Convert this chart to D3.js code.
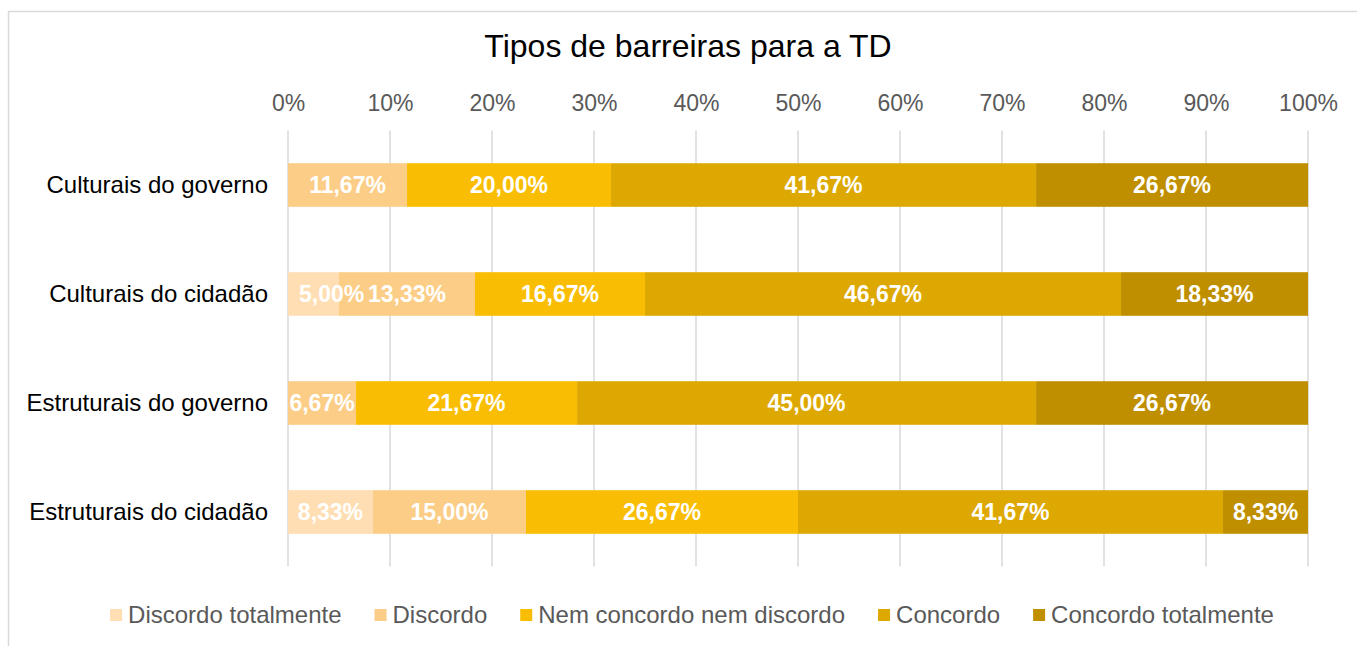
<!DOCTYPE html>
<html>
<head>
<meta charset="utf-8">
<script src="https://cdn.jsdelivr.net/npm/d3@7"></script>
<style>
  body { margin: 0; background: #fff; }
  svg { display: block; font-family: "Liberation Sans", Arial, sans-serif; }
</style>
</head>
<body>
<div id="chart"></div>
<script>
// Données
const categories = ["Culturais do governo", "Culturais do cidadão", "Estruturais do governo", "Estruturais do cidadão"];
const seriesNames = ["Discordo totalmente", "Discordo", "Nem concordo nem discordo", "Concordo", "Concordo totalmente"];
const discordoTotalmente = [0, 5.00, 0, 8.33];
const discordo = [11.67, 13.33, 6.67, 15.00];
const nemNem = [20.00, 16.67, 21.67, 26.67];
const concordo = [41.67, 46.67, 45.00, 41.67];
const concordoTotalmente = [26.67, 18.33, 26.67, 8.33];
const tickValues = [0, 10, 20, 30, 40, 50, 60, 70, 80, 90, 100];
const colors = ["#FEDEB2", "#FBCD86", "#F9BE03", "#DEA802", "#BF8F00"];

const seriesValues = [discordoTotalmente, discordo, nemNem, concordo, concordoTotalmente];

const WIDTH = 1357, HEIGHT = 646;
const PLOT = { left: 288, right: 1308, top: 130.5, bottom: 566.5 };
const FONT = 23;

const svg = d3.select("#chart").append("svg")
    .attr("width", WIDTH)
    .attr("height", HEIGHT);

// Cadre
svg.append("rect")
    .attr("x", 8.5).attr("y", 11.5)
    .attr("width", WIDTH + 20).attr("height", HEIGHT + 20)
    .attr("fill", "#fff")
    .attr("stroke", "#D9D9D9")
    .attr("stroke-width", 1.5);

// Titre
svg.append("text")
    .attr("x", 688)
    .attr("y", 57)
    .attr("text-anchor", "middle")
    .attr("font-size", 32)
    .attr("fill", "#000")
    .text("Tipos de barreiras para a TD");

// Echelles
const x = d3.scaleLinear().domain([0, 100]).range([PLOT.left, PLOT.right]);
const y = d3.scaleBand().domain(categories)
    .range([PLOT.top, PLOT.bottom])
    .paddingInner(0.6).paddingOuter(0.3);

// Grille
svg.append("g")
    .selectAll("line")
    .data(tickValues)
    .join("line")
    .attr("x1", d => x(d)).attr("x2", d => x(d))
    .attr("y1", PLOT.top).attr("y2", PLOT.bottom)
    .attr("stroke", "#D9D9D9")
    .attr("stroke-width", 1.5);

// Axe X (en haut)
const xAxis = svg.append("g")
    .attr("transform", `translate(0,${PLOT.top})`)
    .call(d3.axisTop(x).tickValues(tickValues).tickFormat(d => d + "%").tickSize(0).tickPadding(20));
xAxis.select(".domain").remove();
xAxis.selectAll("text")
    .attr("font-size", FONT)
    .attr("font-family", "Liberation Sans, Arial, sans-serif")
    .attr("fill", "#595959");

// Axe Y
const yAxis = svg.append("g")
    .attr("transform", `translate(${PLOT.left},0)`)
    .call(d3.axisLeft(y).tickSize(0).tickPadding(20));
yAxis.select(".domain").remove();
yAxis.selectAll("text")
    .attr("font-size", 24)
    .attr("font-family", "Liberation Sans, Arial, sans-serif")
    .attr("fill", "#000");

// Empilement
const rows = categories.map((c, i) => {
    const row = { category: c };
    seriesNames.forEach((s, j) => row[s] = seriesValues[j][i]);
    return row;
});
const stacked = d3.stack().keys(seriesNames)(rows);

const layers = svg.append("g")
    .selectAll("g")
    .data(stacked)
    .join("g")
    .attr("fill", (d, i) => colors[i]);

layers.selectAll("rect")
    .data(d => d)
    .join("rect")
    .attr("x", d => x(d[0]))
    .attr("y", d => y(d.data.category))
    .attr("width", d => x(d[1]) - x(d[0]))
    .attr("height", y.bandwidth());

// Etiquettes (décalées si elles sortent à gauche, comme Excel)
const labels = svg.append("g");
stacked.forEach(layer => {
    layer.forEach(d => {
        const v = d[1] - d[0];
        if (v <= 0) return;
        const cx = (x(d[0]) + x(d[1])) / 2;
        const t = labels.append("text")
            .attr("y", y(d.data.category) + y.bandwidth() / 2)
            .attr("dy", "0.35em")
            .attr("text-anchor", "middle")
            .attr("font-size", FONT)
            .attr("font-weight", "bold")
            .attr("fill", "#fff")
            .text(d.data[layer.key].toFixed(2).replace(".", ",") + "%");
        const w = t.node().getComputedTextLength();
        const left = Math.max(cx - w / 2, cx - w / 2 < PLOT.left ? PLOT.left + 11 : -Infinity);
        t.attr("x", left + w / 2);
    });
});

// Légende
const LEGEND_GAP = 33;
const legend = svg.append("g");
let lx = 0;
seriesNames.forEach((s, i) => {
    const g = legend.append("g").attr("transform", `translate(${lx},0)`);
    g.append("rect")
        .attr("x", 0).attr("y", -14)
        .attr("width", 12).attr("height", 12)
        .attr("fill", colors[i]);
    const t = g.append("text")
        .attr("x", 18).attr("y", 0)
        .attr("font-size", 24)
        .attr("fill", "#595959")
        .text(s);
    lx += 18 + t.node().getComputedTextLength() + LEGEND_GAP;
});
const legendWidth = lx - LEGEND_GAP;
legend.attr("transform", `translate(${692 - legendWidth / 2},623)`);
</script>
</body>
</html>
